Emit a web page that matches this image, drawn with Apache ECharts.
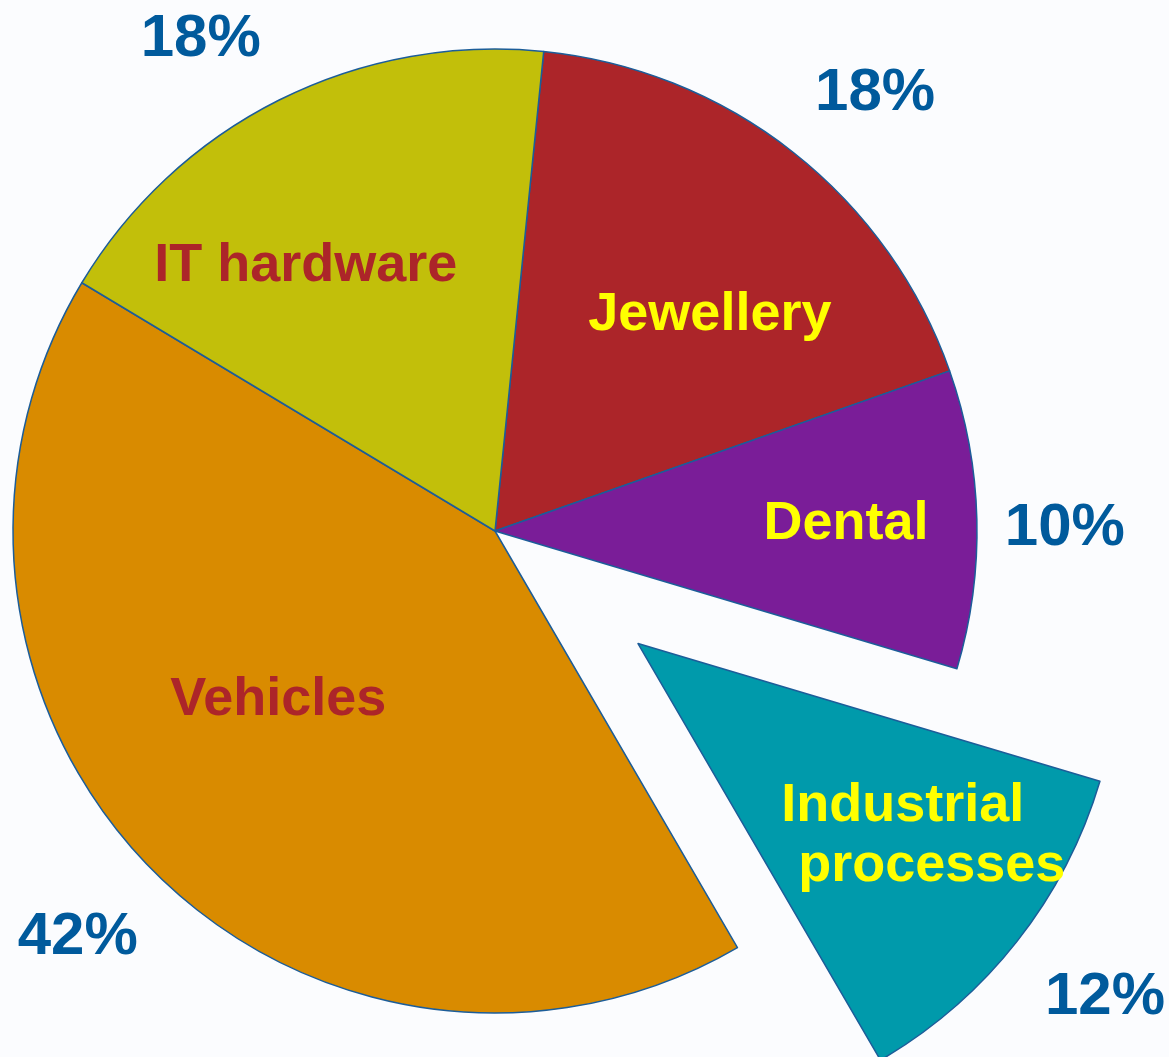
<!DOCTYPE html>
<html>
<head>
<meta charset="utf-8">
<title>Uses</title>
<script src="https://cdn.jsdelivr.net/npm/echarts@6/dist/echarts.min.js"></script>
<style>
  html, body { margin: 0; padding: 0; background: #fbfcfe; }
  #chart { width: 1169px; height: 1057px; }
</style>
</head>
<body>
<div id="chart"></div>
<script>
// Share of use per sector (percent), listed clockwise from the top
const categories = ['Jewellery', 'Dental', 'Industrial processes', 'Vehicles', 'IT hardware'];
const values = [18, 10, 12, 42, 18];
const colours = ['#ac2529', '#7a1d98', '#009aab', '#d98b00', '#c2bf0a'];
const labelColours = ['#ffff00', '#ffff00', '#ffff00', '#ac2529', '#ac2529'];
const explodedIndex = 2;

// fine placement of the texts inside and outside each slice
const innerOffsets = [[64, -24], [107, -1], [73, 42], [-43, -2], [-80, -47]];
const outerOffsets = [[22, 17], [-9, 12], [12, -4], [-5, 0], [-35, 26]];

const CENTER = [495, 531];
const RADIUS = 482;
const START = 84.2;
const OFFSET = 182;
const FONT = 'Liberation Sans, Arial, sans-serif';

const chart = echarts.init(document.getElementById('chart'), null, { renderer: 'canvas' });

const sliceData = categories.map((name, i) => ({
  name,
  value: values[i],
  selected: i === explodedIndex,
  itemStyle: { color: colours[i] },
  label: { color: labelColours[i], offset: innerOffsets[i] },
  select: { label: { color: labelColours[i], offset: innerOffsets[i] } }
}));

const pctData = categories.map((name, i) => ({
  name,
  value: values[i],
  selected: i === explodedIndex,
  label: { offset: outerOffsets[i] },
  select: { label: { offset: outerOffsets[i] } }
}));

chart.setOption({
  backgroundColor: '#fbfcfe',
  animation: false,
  series: [
    {
      type: 'pie',
      center: CENTER,
      radius: [0, RADIUS],
      startAngle: START,
      clockwise: true,
      selectedMode: 'single',
      selectedOffset: OFFSET,
      silent: true,
      avoidLabelOverlap: false,
      itemStyle: { borderColor: '#1c5d99', borderWidth: 1.5 },
      select: { itemStyle: { borderColor: '#1c5d99', borderWidth: 1.5 } },
      label: {
        show: true,
        position: 'inside',
        rotate: 0,
        fontFamily: FONT,
        fontWeight: 'bold',
        fontSize: 54,
        lineHeight: 60,
        formatter: (p) => {
          const parts = p.name.split(' ');
          if (p.name === 'Industrial processes') {
            return '{l1|' + parts[0] + '}\n{l2|' + parts[1] + '}';
          }
          return p.name;
        },
        rich: {
          l1: { fontFamily: FONT, fontWeight: 'bold', fontSize: 54, lineHeight: 60, color: '#ffff00' },
          l2: { fontFamily: FONT, fontWeight: 'bold', fontSize: 54, lineHeight: 60, color: '#ffff00', padding: [0, 0, 0, 58] }
        }
      },
      labelLine: { show: false },
      emphasis: { disabled: true },
      data: sliceData
    },
    {
      type: 'pie',
      center: CENTER,
      radius: [566, 586],
      startAngle: START,
      clockwise: true,
      selectedMode: 'single',
      selectedOffset: OFFSET,
      silent: true,
      avoidLabelOverlap: false,
      itemStyle: { color: 'rgba(0,0,0,0)', borderWidth: 0 },
      label: {
        show: true,
        position: 'inside',
        rotate: 0,
        fontFamily: FONT,
        fontWeight: 'bold',
        fontSize: 60,
        color: '#005a9c',
        formatter: (p) => p.value + '%'
      },
      labelLine: { show: false },
      emphasis: { disabled: true },
      data: pctData
    }
  ]
});
</script>
</body>
</html>
